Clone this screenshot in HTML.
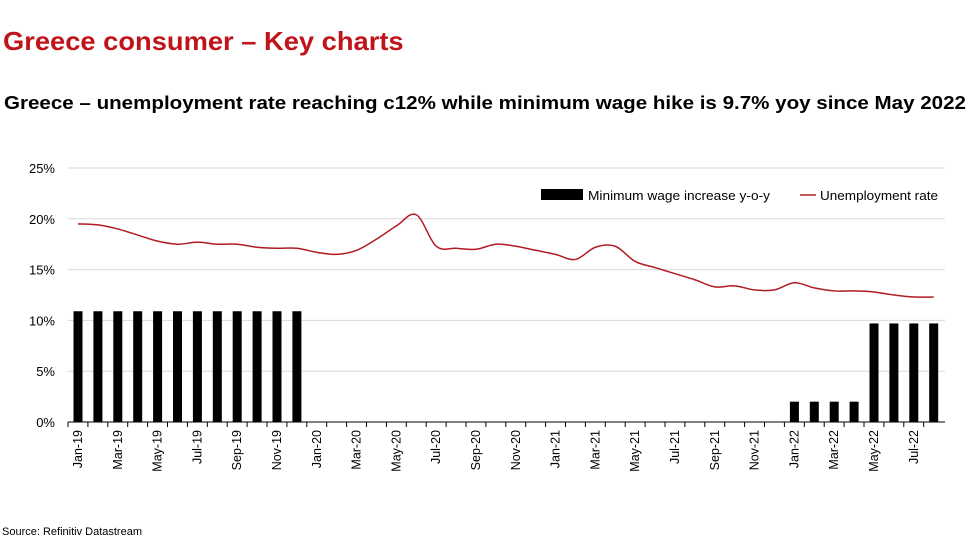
<!DOCTYPE html>
<html><head><meta charset="utf-8"><style>
body{margin:0;background:#fff;width:973px;height:538px;overflow:hidden;font-family:"Liberation Sans",sans-serif}
.t{position:absolute;white-space:nowrap;transform-origin:0 0}
</style></head><body>
<div class="t" style="left:3px;top:26px;font-size:26px;font-weight:bold;color:#c0141b;transform:scaleX(1.05)">Greece consumer – Key charts</div>
<div class="t" style="left:4px;top:93px;font-size:18px;font-weight:bold;color:#000;transform:scaleX(1.142)">Greece – unemployment rate reaching c12% while minimum wage hike is 9.7% yoy since May 2022</div>
<div class="t" style="left:2px;top:526px;font-size:11px;color:#000">Source: Refinitiv Datastream</div>
<svg id="c" width="973" height="538" style="position:absolute;left:0;top:0"></svg>
<script>
const months=["Jan-19","Feb-19","Mar-19","Apr-19","May-19","Jun-19","Jul-19","Aug-19","Sep-19","Oct-19","Nov-19","Dec-19","Jan-20","Feb-20","Mar-20","Apr-20","May-20","Jun-20","Jul-20","Aug-20","Sep-20","Oct-20","Nov-20","Dec-20","Jan-21","Feb-21","Mar-21","Apr-21","May-21","Jun-21","Jul-21","Aug-21","Sep-21","Oct-21","Nov-21","Dec-21","Jan-22","Feb-22","Mar-22","Apr-22","May-22","Jun-22","Jul-22","Aug-22"];
const wage=[10.9,10.9,10.9,10.9,10.9,10.9,10.9,10.9,10.9,10.9,10.9,10.9,0,0,0,0,0,0,0,0,0,0,0,0,0,0,0,0,0,0,0,0,0,0,0,0,2,2,2,2,9.7,9.7,9.7,9.7];
const unemp=[19.5,19.4,19.0,18.4,17.8,17.5,17.7,17.5,17.5,17.2,17.1,17.1,16.7,16.5,16.9,18.0,19.3,20.4,17.3,17.1,17.0,17.5,17.3,16.9,16.5,16.0,17.2,17.3,15.8,15.2,14.6,14.0,13.3,13.4,13.0,13.0,13.7,13.2,12.9,12.9,12.8,12.5,12.3,12.3];
const yTicks=[0,5,10,15,20,25];
const svg=document.getElementById('c');const NS="http://www.w3.org/2000/svg";
const x=i=>78+19.9*i, y=v=>422-v*10.16;
function mk(t,a){const e=document.createElementNS(NS,t);for(const k in a)e.setAttribute(k,a[k]);svg.appendChild(e);return e;}
yTicks.forEach(v=>{
 const g=mk('line',{x1:68,x2:945,y1:y(v),y2:y(v),stroke:v?'#d9d9d9':'#000','stroke-width':1});
 
 
 const t=mk('text',{x:55,y:y(v)+5,'text-anchor':'end','font-size':13,'font-family':'Liberation Sans'});t.textContent=v+'%';
 
 
});
wage.forEach((v,i)=>{if(!v)return;
 const r=mk('rect',{x:x(i)-4.5,y:y(v),width:9,height:y(0)-y(v),fill:'#000'});
 
 
});
months.forEach((m,i)=>{
 mk('line',{x1:x(i)-10,x2:x(i)-10,y1:422,y2:427,stroke:'#000'});
 if(i%2)return;
 const t=mk('text',{x:0,y:0,'text-anchor':'end','font-size':12.5,'font-family':'Liberation Sans',transform:`translate(${x(i)+4},${430}) rotate(-90)`});t.textContent=m;
 
 
});
const pts=unemp.map((v,i)=>[x(i),y(v)]);
let d='M'+pts[0][0]+','+pts[0][1];
for(let i=0;i<pts.length-1;i++){const p0=pts[Math.max(0,i-1)],p1=pts[i],p2=pts[i+1],p3=pts[Math.min(pts.length-1,i+2)];
 d+=`C${p1[0]+(p2[0]-p0[0])/6},${p1[1]+(p2[1]-p0[1])/6} ${p2[0]-(p3[0]-p1[0])/6},${p2[1]-(p3[1]-p1[1])/6} ${p2[0]},${p2[1]}`;}
const p=mk('path',{d:d,fill:'none',stroke:'#b01c23','stroke-width':1.5,'stroke-linejoin':'round'});


const lr=mk('rect',{x:541,y:189,width:42,height:11,fill:'#000'});


const l1=mk('text',{x:588,y:200,'font-size':13,'font-family':'Liberation Sans',textLength:182,lengthAdjust:'spacingAndGlyphs'});l1.textContent='Minimum wage increase y-o-y';


const ll=mk('line',{x1:800,x2:816,y1:195,y2:195,stroke:'#b01c23','stroke-width':1.5});


const l2=mk('text',{x:820,y:200,'font-size':13,'font-family':'Liberation Sans',textLength:118,lengthAdjust:'spacingAndGlyphs'});l2.textContent='Unemployment rate';


</script>
</body></html>
